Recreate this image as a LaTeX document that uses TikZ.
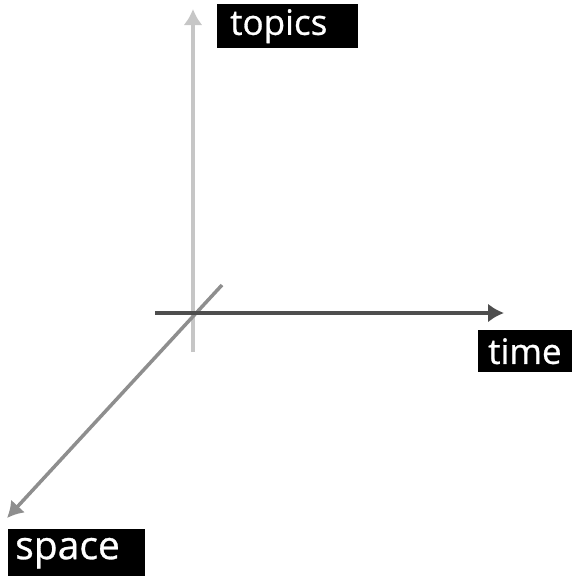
\documentclass[tikz,border=0pt]{standalone}
\usepackage{fontspec}
\setmainfont{Open Sans}
\newfontfamily\tagfont[FakeBold=0.8]{Open Sans}
\usetikzlibrary{arrows.meta, positioning}
\definecolor{axislight}{HTML}{C6C6C6}
\definecolor{axisdark}{HTML}{4E4E4E}
\definecolor{axismid}{HTML}{8E8E8E}
\begin{document}
\begin{tikzpicture}[x=1pt, y=-1pt, >={Latex[length=16pt, width=19pt]}]
		% Define styles
		\tikzstyle{axis} = [draw, ->, line width=3.5pt]
		\tikzstyle{tag} = [fill=black, text=white, inner ysep=0pt, align=left, anchor=north west]

		\useasboundingbox (0,0) rectangle (571,576);

		% Axis ends
		\node [coordinate] (topicsfoot) at (193, 352) {};
		\node [coordinate] (topicshead) at (193, 9) {};
		\node [coordinate] (timefoot) at (155, 313) {};
		\node [coordinate] (timehead) at (504, 313) {};
		\node [coordinate] (spacefoot) at (222, 285) {};
		\node [coordinate] (spacehead) at (7, 518) {};

		% Labels
		\node [tag, inner xsep=13pt, text width=115pt, minimum height=44pt, font=\tagfont\fontsize{35}{35}\selectfont] (topics) at (217, 4) {topics};
		\node [tag, inner xsep=10pt, text width=80pt, minimum height=42pt, font=\tagfont\fontsize{35}{35}\selectfont] (time) at (478, 330) {time};
		\node [tag, inner xsep=7pt, text width=123pt, minimum height=48pt, font=\tagfont\fontsize{39}{39}\selectfont] (space) at (8, 529) {space};

		% Axes
		\draw [axis, axislight] (topicsfoot) -- (topicshead);
		\draw [axis, axismid] (spacefoot) -- (spacehead);
		\draw [axis, axisdark] (timefoot) -- (timehead);

	\end{tikzpicture}
\end{document}
